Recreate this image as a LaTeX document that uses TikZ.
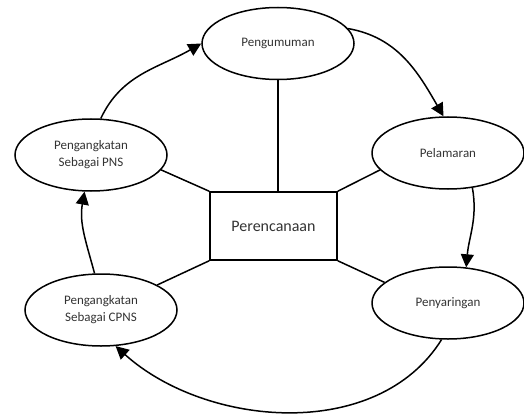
\documentclass[tikz,border=0pt]{standalone}
\usepackage{fontspec}
\setmainfont{Carlito}
\usetikzlibrary{shapes.geometric,arrows.meta}
\begin{document}
\begin{tikzpicture}[x=1pt,y=1pt,
  stage/.style={ellipse,draw,line width=1.5pt,minimum width=152pt,minimum height=72pt,inner sep=0pt,
    align=center,font=\fontsize{13}{17}\selectfont,text=black!80},
  hub/.style={rectangle,draw,line width=1.5pt,minimum width=127pt,minimum height=68pt,inner sep=0pt,
    font=\fontsize{16}{18}\selectfont,text=black!80},
  link/.style={line width=1.5pt},
  flow/.style={line width=1.5pt,-{Triangle[length=13pt,width=13pt]}}]
\useasboundingbox (0,0) rectangle (524,413);
\node[hub] (rect) at (273.5,187) {Perencanaan};
\node[stage] (peng) at (278,369.5) {Pengumuman};
\node[stage] (pel) at (448,260) {Pelamaran};
\node[stage] (peny) at (448,110) {Penyaringan};
\node[stage] (cpns) at (101,103) {Pengangkatan\\Sebagai CPNS};
\node[stage] (pns) at (91,258) {Pengangkatan\\Sebagai PNS};
% spokes
\draw[link] (peng.south) -- (peng.south |- rect.north);
\draw[link] (rect.north west) -- (pns.-12);
\draw[link] (rect.north east) -- (pel.194);
\draw[link] (rect.south east) -- (peny.162);
\draw[link] (rect.south west) -- (cpns.24);
% cycle
\draw[flow] (pns.75) to[out=65,in=210] (peng.west);
\draw[flow] (peng.12) to[out=-10,in=120] (pel.97);
\draw[flow] (pel.-55) to[out=-80,in=85] (peny.63);
\draw[flow] (peny.-100) to[out=-122,in=-42,looseness=0.95] (cpns.-68);
\draw[flow] (cpns.100) to[out=105,in=260] (pns.-100);
\end{tikzpicture}
\end{document}
